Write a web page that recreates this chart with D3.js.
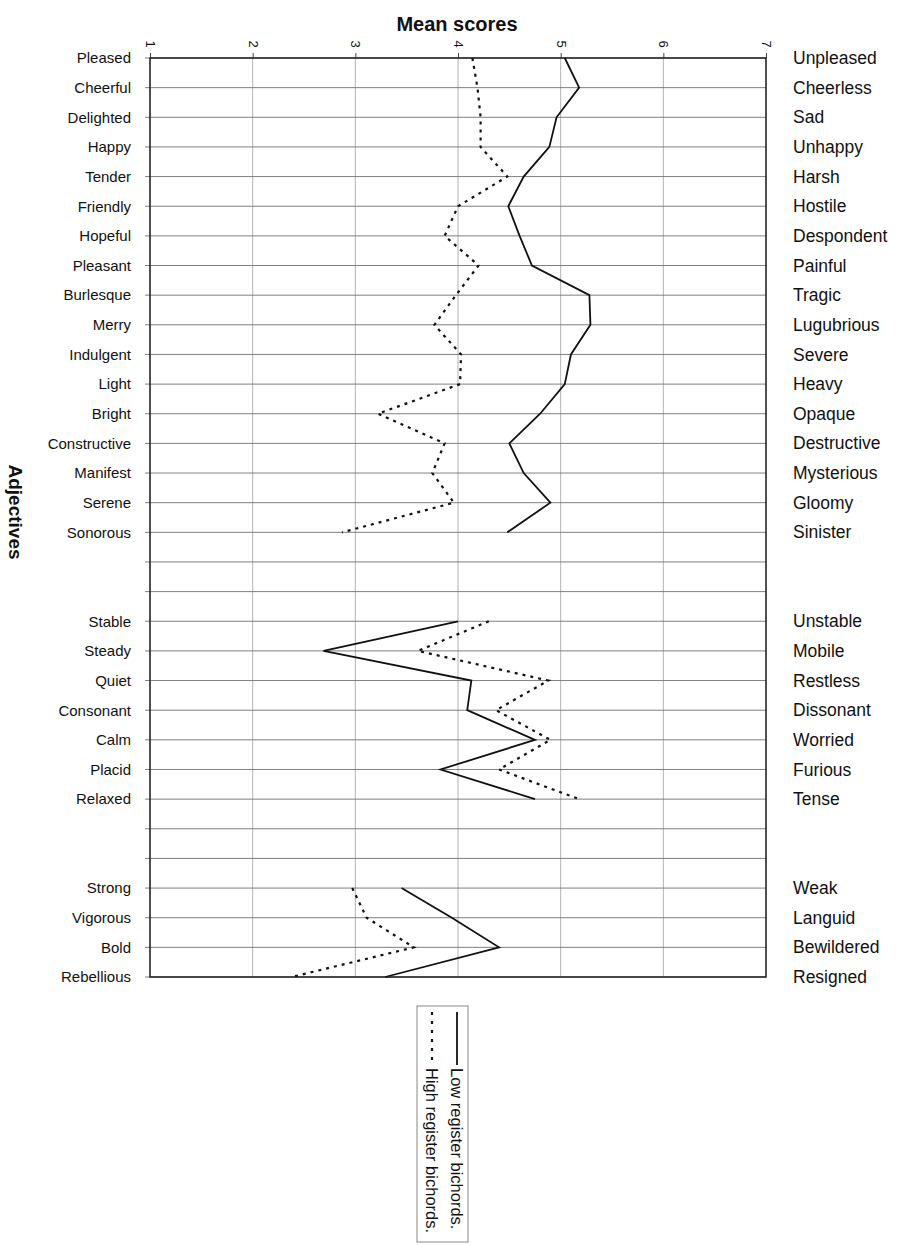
<!DOCTYPE html>
<html>
<head>
  <meta charset="utf-8">
  <title>Mean scores by adjective pair</title>
  <script src="https://d3js.org/d3.v7.min.js"></script>
  <style>
    body { margin: 0; background: #fff; }
    text { font-family: "Liberation Sans", Arial, sans-serif; fill: #111; }
  </style>
</head>
<body>
  <script>
    // Adjective pairs, top to bottom (empty strings are the blank rows)
    let leftLabels = ["Pleased", "Cheerful", "Delighted", "Happy", "Tender", "Friendly", "Hopeful", "Pleasant",
      "Burlesque", "Merry", "Indulgent", "Light", "Bright", "Constructive", "Manifest", "Serene", "Sonorous",
      "", "", "Stable", "Steady", "Quiet", "Consonant", "Calm", "Placid", "Relaxed",
      "", "", "Strong", "Vigorous", "Bold", "Rebellious"];
    let rightLabels = ["Unpleased", "Cheerless", "Sad", "Unhappy", "Harsh", "Hostile", "Despondent", "Painful",
      "Tragic", "Lugubrious", "Severe", "Heavy", "Opaque", "Destructive", "Mysterious", "Gloomy", "Sinister",
      "", "", "Unstable", "Mobile", "Restless", "Dissonant", "Worried", "Furious", "Tense",
      "", "", "Weak", "Languid", "Bewildered", "Resigned"];

    // Mean scores (null = no value on that row)
    let lowRegister = [5.04, 5.18, 4.96, 4.89, 4.64, 4.49, 4.60, 4.72, 5.28, 5.29, 5.10, 5.04, 4.80, 4.50, 4.64, 4.90, 4.48,
      null, null, 4.00, 2.69, 4.13, 4.09, 4.75, 3.83, 4.75,
      null, null, 3.45, 3.94, 4.40, 3.29];
    let highRegister = [4.14, 4.19, 4.22, 4.22, 4.48, 4.00, 3.87, 4.20, 3.98, 3.77, 4.03, 4.02, 3.22, 3.87, 3.75, 3.96, 2.87,
      null, null, 4.30, 3.61, 4.88, 4.37, 4.90, 4.40, 5.18,
      null, null, 2.97, 3.11, 3.57, 2.38];

    let scoreTicks = [1, 2, 3, 4, 5, 6, 7];
    let legendLabels = ["Low register bichords.", "High register bichords."];

    let W = 898, H = 1245;
    let margin = {left: 150, right: 766, top: 58, bottom: 977};

    let svg = d3.select("body").append("svg")
      .attr("width", W)
      .attr("height", H);

    let rows = d3.range(leftLabels.length);

    let x = d3.scaleLinear().domain([1, 7]).range([margin.left, margin.right]);
    let y = d3.scalePoint().domain(rows).range([margin.top, margin.bottom]);

    // grid lines
    svg.append("g")
      .selectAll("line")
      .data(scoreTicks)
      .enter()
      .append("line")
      .attr("x1", d => x(d)).attr("x2", d => x(d))
      .attr("y1", margin.top).attr("y2", margin.bottom)
      .attr("stroke", "#a0a0a0")
      .attr("stroke-width", 0.8);

    svg.append("g")
      .selectAll("line")
      .data(rows)
      .enter()
      .append("line")
      .attr("x1", margin.left - 5).attr("x2", margin.right)
      .attr("y1", d => y(d)).attr("y2", d => y(d))
      .attr("stroke", "#707070")
      .attr("stroke-width", 0.9);

    // top axis (scores)
    let topAxis = svg.append("g")
      .attr("transform", "translate(0," + margin.top + ")")
      .call(d3.axisTop(x).tickValues(scoreTicks).tickSize(5).tickFormat(d3.format("d")));
    topAxis.select(".domain").remove();
    topAxis.selectAll("line").attr("stroke", "#444");
    topAxis.selectAll("text")
      .attr("y", null)
      .attr("text-anchor", "middle")
      .attr("transform", "translate(0,-14) rotate(90)")
      .attr("dy", "0.35em")
      .style("font-size", "13px");

    // left / right labels
    let leftAxis = svg.append("g")
      .attr("transform", "translate(" + margin.left + ",0)")
      .call(d3.axisLeft(y).tickSize(0).tickPadding(19).tickFormat(i => leftLabels[i]));
    leftAxis.select(".domain").remove();
    leftAxis.selectAll("text").style("font-size", "15px");

    let rightAxis = svg.append("g")
      .attr("transform", "translate(" + margin.right + ",0)")
      .call(d3.axisRight(y).tickSize(0).tickPadding(27).tickFormat(i => rightLabels[i]));
    rightAxis.select(".domain").remove();
    rightAxis.selectAll("text").style("font-size", "17.5px");

    // frame
    svg.append("rect")
      .attr("x", margin.left).attr("y", margin.top)
      .attr("width", margin.right - margin.left).attr("height", margin.bottom - margin.top)
      .attr("fill", "none")
      .attr("stroke", "#222")
      .attr("stroke-width", 1.5);

    // series
    let line = d3.line()
      .defined(d => d != null)
      .x(d => x(d))
      .y((d, i) => y(i));

    svg.append("path")
      .datum(lowRegister)
      .attr("d", line)
      .attr("fill", "none")
      .attr("stroke", "#111")
      .attr("stroke-width", 1.8);

    svg.append("path")
      .datum(highRegister)
      .attr("d", line)
      .attr("fill", "none")
      .attr("stroke", "#111")
      .attr("stroke-width", 2.2)
      .attr("stroke-dasharray", "3,5");

    // titles
    svg.append("text")
      .attr("x", 457)
      .attr("y", 31)
      .attr("text-anchor", "middle")
      .style("font-size", "20px")
      .style("font-weight", "bold")
      .text("Mean scores");

    svg.append("text")
      .attr("transform", "translate(16,512) rotate(90)")
      .attr("text-anchor", "middle")
      .attr("dy", "0.35em")
      .style("font-size", "19px")
      .style("font-weight", "bold")
      .text("Adjectives");

    // legend (rotated)
    let legend = svg.append("g").attr("transform", "translate(417,1006)");
    legend.append("rect")
      .attr("width", 51).attr("height", 236)
      .attr("fill", "none")
      .attr("stroke", "#888")
      .attr("stroke-width", 1);

    legendLabels.forEach(function(label, i) {
      let lx = i === 0 ? 40 : 15;
      legend.append("line")
        .attr("x1", lx).attr("x2", lx)
        .attr("y1", 6).attr("y2", 59)
        .attr("stroke", "#111")
        .attr("stroke-width", i === 0 ? 1.8 : 2.2)
        .attr("stroke-dasharray", i === 0 ? null : "3,6");
      legend.append("text")
        .attr("transform", "translate(" + lx + ",62) rotate(90)")
        .attr("dy", "0.35em")
        .style("font-size", "16.5px")
        .text(label);
    });
  </script>
</body>
</html>
